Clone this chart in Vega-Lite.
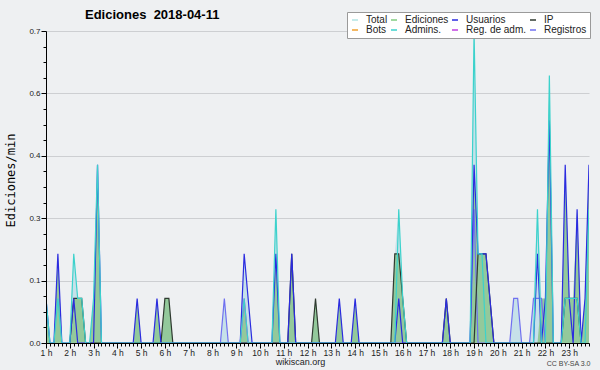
{
  "$schema": "https://vega.github.io/schema/vega-lite/v6.json",
  "width": 543,
  "height": 312,
  "autosize": {"type": "none"},
  "padding": {"left": 46, "top": 31, "right": 11, "bottom": 27},
  "background": "#eef0f2",
  "config": {"view": {"stroke": null}, "font": "Liberation Sans"},
  "title": {"text": "Ediciones \u00a02018-04-11", "anchor": "start", "frame": "group", "dx": 39, "dy": 18, "offset": 8, "font": "Liberation Sans", "fontSize": 13, "fontWeight": "bold", "color": "#000000"},
  "datasets": {
    "tot": [
      {"t":60,"v":0.1},{"t":70,"v":0},{"t":80,"v":0},{"t":90,"v":0.2},{"t":100,"v":0},{"t":120,"v":0},{"t":130,"v":0.2},{"t":140,"v":0.1},{"t":150,"v":0.1},{"t":160,"v":0},{"t":170,"v":0},{"t":180,"v":0.1},{"t":190,"v":0.4},{"t":200,"v":0},{"t":280,"v":0},{"t":290,"v":0.1},{"t":300,"v":0},{"t":330,"v":0},{"t":340,"v":0.1},{"t":350,"v":0},{"t":360,"v":0.1},{"t":370,"v":0.1},{"t":380,"v":0},{"t":500,"v":0},{"t":510,"v":0.1},{"t":520,"v":0},{"t":550,"v":0},{"t":560,"v":0.2},{"t":570,"v":0.1},{"t":580,"v":0},{"t":630,"v":0},{"t":640,"v":0.3},{"t":650,"v":0},{"t":670,"v":0},{"t":680,"v":0.2},{"t":690,"v":0},{"t":730,"v":0},{"t":740,"v":0.1},{"t":750,"v":0},{"t":790,"v":0},{"t":800,"v":0.1},{"t":810,"v":0},{"t":830,"v":0},{"t":840,"v":0.1},{"t":850,"v":0},{"t":930,"v":0},{"t":940,"v":0.2},{"t":950,"v":0.3},{"t":960,"v":0.1},{"t":970,"v":0},{"t":1060,"v":0},{"t":1070,"v":0.1},{"t":1080,"v":0},{"t":1130,"v":0},{"t":1140,"v":0.7},{"t":1150,"v":0.2},{"t":1160,"v":0.2},{"t":1170,"v":0.2},{"t":1180,"v":0.1},{"t":1190,"v":0},{"t":1230,"v":0},{"t":1240,"v":0.1},{"t":1250,"v":0.1},{"t":1260,"v":0},{"t":1280,"v":0},{"t":1290,"v":0.1},{"t":1300,"v":0.3},{"t":1310,"v":0.1},{"t":1320,"v":0.1},{"t":1330,"v":0.6},{"t":1340,"v":0},{"t":1360,"v":0},{"t":1370,"v":0.4},{"t":1380,"v":0.1},{"t":1390,"v":0.1},{"t":1400,"v":0.3},{"t":1410,"v":0},{"t":1420,"v":0.1},{"t":1430,"v":0.4}
    ],
    "edi": [
      {"t":60,"v":0.1},{"t":70,"v":0},{"t":80,"v":0},{"t":90,"v":0.2},{"t":100,"v":0},{"t":120,"v":0},{"t":130,"v":0.1},{"t":140,"v":0.1},{"t":150,"v":0.1},{"t":160,"v":0},{"t":170,"v":0},{"t":180,"v":0.1},{"t":190,"v":0.4},{"t":200,"v":0},{"t":280,"v":0},{"t":290,"v":0.1},{"t":300,"v":0},{"t":330,"v":0},{"t":340,"v":0.1},{"t":350,"v":0},{"t":360,"v":0.1},{"t":370,"v":0.1},{"t":380,"v":0},{"t":550,"v":0},{"t":560,"v":0.1},{"t":570,"v":0},{"t":630,"v":0},{"t":640,"v":0.2},{"t":650,"v":0},{"t":670,"v":0},{"t":680,"v":0.2},{"t":690,"v":0},{"t":730,"v":0},{"t":740,"v":0.1},{"t":750,"v":0},{"t":790,"v":0},{"t":800,"v":0.1},{"t":810,"v":0},{"t":830,"v":0},{"t":840,"v":0.1},{"t":850,"v":0},{"t":930,"v":0},{"t":940,"v":0.2},{"t":950,"v":0.2},{"t":960,"v":0.1},{"t":970,"v":0},{"t":1060,"v":0},{"t":1070,"v":0.1},{"t":1080,"v":0},{"t":1130,"v":0},{"t":1140,"v":0.4},{"t":1150,"v":0.2},{"t":1160,"v":0.2},{"t":1170,"v":0.2},{"t":1180,"v":0.1},{"t":1190,"v":0},{"t":1300,"v":0},{"t":1310,"v":0.1},{"t":1320,"v":0.1},{"t":1330,"v":0.6},{"t":1340,"v":0},{"t":1360,"v":0},{"t":1370,"v":0.4},{"t":1380,"v":0.1},{"t":1390,"v":0.1},{"t":1400,"v":0.3},{"t":1410,"v":0},{"t":1420,"v":0.1},{"t":1430,"v":0.4}
    ],
    "lines": [
      {"s":"Registros","t":500,"v":0},{"s":"Registros","t":510,"v":0.1},{"s":"Registros","t":520,"v":0},{"s":"Registros","t":1130,"v":0},{"s":"Registros","t":1140,"v":0.3},{"s":"Registros","t":1150,"v":0},{"s":"Registros","t":1230,"v":0},{"s":"Registros","t":1240,"v":0.1},{"s":"Registros","t":1250,"v":0.1},{"s":"Registros","t":1260,"v":0},{"s":"Registros","t":1280,"v":0},{"s":"Registros","t":1290,"v":0.1},{"s":"Registros","t":1300,"v":0.1},{"s":"Registros","t":1310,"v":0.1},{"s":"Registros","t":1320,"v":0},
      {"s":"Reg. de adm.","t":550,"v":0},{"s":"Reg. de adm.","t":560,"v":0.1},{"s":"Reg. de adm.","t":570,"v":0},
      {"s":"IP","t":120,"v":0},{"s":"IP","t":130,"v":0.1},{"s":"IP","t":140,"v":0.1},{"s":"IP","t":150,"v":0.1},{"s":"IP","t":160,"v":0},{"s":"IP","t":350,"v":0},{"s":"IP","t":360,"v":0.1},{"s":"IP","t":370,"v":0.1},{"s":"IP","t":380,"v":0},{"s":"IP","t":670,"v":0},{"s":"IP","t":680,"v":0.2},{"s":"IP","t":690,"v":0},{"s":"IP","t":730,"v":0},{"s":"IP","t":740,"v":0.1},{"s":"IP","t":750,"v":0},{"s":"IP","t":930,"v":0},{"s":"IP","t":940,"v":0.2},{"s":"IP","t":950,"v":0.2},{"s":"IP","t":960,"v":0.1},{"s":"IP","t":970,"v":0},{"s":"IP","t":1060,"v":0},{"s":"IP","t":1070,"v":0.1},{"s":"IP","t":1080,"v":0},{"s":"IP","t":1140,"v":0},{"s":"IP","t":1150,"v":0.2},{"s":"IP","t":1160,"v":0.2},{"s":"IP","t":1170,"v":0.2},{"s":"IP","t":1180,"v":0.1},{"s":"IP","t":1190,"v":0},{"s":"IP","t":1360,"v":0},{"s":"IP","t":1370,"v":0.1},{"s":"IP","t":1380,"v":0.1},{"s":"IP","t":1390,"v":0.1},{"s":"IP","t":1400,"v":0.1},{"s":"IP","t":1410,"v":0},
      {"s":"Usuarios","t":60,"v":0.1},{"s":"Usuarios","t":70,"v":0},{"s":"Usuarios","t":80,"v":0},{"s":"Usuarios","t":90,"v":0.2},{"s":"Usuarios","t":100,"v":0},{"s":"Usuarios","t":120,"v":0},{"s":"Usuarios","t":130,"v":0.1},{"s":"Usuarios","t":140,"v":0},{"s":"Usuarios","t":180,"v":0},{"s":"Usuarios","t":190,"v":0.4},{"s":"Usuarios","t":200,"v":0},{"s":"Usuarios","t":280,"v":0},{"s":"Usuarios","t":290,"v":0.1},{"s":"Usuarios","t":300,"v":0},{"s":"Usuarios","t":330,"v":0},{"s":"Usuarios","t":340,"v":0.1},{"s":"Usuarios","t":350,"v":0},{"s":"Usuarios","t":550,"v":0},{"s":"Usuarios","t":560,"v":0.2},{"s":"Usuarios","t":570,"v":0.1},{"s":"Usuarios","t":580,"v":0},{"s":"Usuarios","t":630,"v":0},{"s":"Usuarios","t":640,"v":0.2},{"s":"Usuarios","t":650,"v":0},{"s":"Usuarios","t":670,"v":0},{"s":"Usuarios","t":680,"v":0.2},{"s":"Usuarios","t":690,"v":0},{"s":"Usuarios","t":790,"v":0},{"s":"Usuarios","t":800,"v":0.1},{"s":"Usuarios","t":810,"v":0},{"s":"Usuarios","t":830,"v":0},{"s":"Usuarios","t":840,"v":0.1},{"s":"Usuarios","t":850,"v":0},{"s":"Usuarios","t":940,"v":0},{"s":"Usuarios","t":950,"v":0.1},{"s":"Usuarios","t":960,"v":0},{"s":"Usuarios","t":1060,"v":0},{"s":"Usuarios","t":1070,"v":0.1},{"s":"Usuarios","t":1080,"v":0},{"s":"Usuarios","t":1130,"v":0},{"s":"Usuarios","t":1140,"v":0.4},{"s":"Usuarios","t":1150,"v":0.2},{"s":"Usuarios","t":1160,"v":0.2},{"s":"Usuarios","t":1170,"v":0.2},{"s":"Usuarios","t":1180,"v":0.1},{"s":"Usuarios","t":1190,"v":0},{"s":"Usuarios","t":1290,"v":0},{"s":"Usuarios","t":1300,"v":0.2},{"s":"Usuarios","t":1310,"v":0},{"s":"Usuarios","t":1320,"v":0.1},{"s":"Usuarios","t":1330,"v":0.5},{"s":"Usuarios","t":1340,"v":0},{"s":"Usuarios","t":1360,"v":0},{"s":"Usuarios","t":1370,"v":0.4},{"s":"Usuarios","t":1380,"v":0.1},{"s":"Usuarios","t":1390,"v":0},{"s":"Usuarios","t":1400,"v":0.3},{"s":"Usuarios","t":1410,"v":0},{"s":"Usuarios","t":1420,"v":0.1},{"s":"Usuarios","t":1430,"v":0.4},
      {"s":"Admins.","t":60,"v":0.1},{"s":"Admins.","t":70,"v":0},{"s":"Admins.","t":80,"v":0},{"s":"Admins.","t":90,"v":0.1},{"s":"Admins.","t":100,"v":0},{"s":"Admins.","t":120,"v":0},{"s":"Admins.","t":130,"v":0.2},{"s":"Admins.","t":140,"v":0.1},{"s":"Admins.","t":150,"v":0.1},{"s":"Admins.","t":160,"v":0},{"s":"Admins.","t":170,"v":0},{"s":"Admins.","t":180,"v":0.1},{"s":"Admins.","t":190,"v":0.4},{"s":"Admins.","t":200,"v":0},{"s":"Admins.","t":550,"v":0},{"s":"Admins.","t":560,"v":0.1},{"s":"Admins.","t":570,"v":0},{"s":"Admins.","t":630,"v":0},{"s":"Admins.","t":640,"v":0.3},{"s":"Admins.","t":650,"v":0},{"s":"Admins.","t":940,"v":0},{"s":"Admins.","t":950,"v":0.3},{"s":"Admins.","t":960,"v":0.1},{"s":"Admins.","t":970,"v":0},{"s":"Admins.","t":1130,"v":0},{"s":"Admins.","t":1140,"v":0.7},{"s":"Admins.","t":1150,"v":0.2},{"s":"Admins.","t":1160,"v":0.2},{"s":"Admins.","t":1170,"v":0},{"s":"Admins.","t":1290,"v":0},{"s":"Admins.","t":1300,"v":0.3},{"s":"Admins.","t":1310,"v":0},{"s":"Admins.","t":1320,"v":0},{"s":"Admins.","t":1330,"v":0.6},{"s":"Admins.","t":1340,"v":0},{"s":"Admins.","t":1360,"v":0},{"s":"Admins.","t":1370,"v":0.1},{"s":"Admins.","t":1380,"v":0.1},{"s":"Admins.","t":1390,"v":0.1},{"s":"Admins.","t":1400,"v":0.1},{"s":"Admins.","t":1410,"v":0},{"s":"Admins.","t":1420,"v":0},{"s":"Admins.","t":1430,"v":0.3}
    ]
  },
  "layer": [
    {
      "data": {"name": "tot"},
      "mark": {"type": "area", "color": "#c6e1e9", "opacity": 1},
      "encoding": {
        "x": {"field": "t", "type": "quantitative", "scale": {"domain": [60, 1430], "nice": false, "zero": false},
          "axis": {"orient": "bottom", "values": [60,120,180,240,300,360,420,480,540,600,660,720,780,840,900,960,1020,1080,1140,1200,1260,1320,1380], "labelExpr": "datum.value / 60 + ' h'", "tickSize": 5, "tickColor": "#000000", "domain": false, "grid": false, "labelFont": "Liberation Sans", "labelFontSize": 8.5, "labelColor": "#222222", "labelPadding": 0, "labelOverlap": false, "labelFlush": false, "title": "wikiscan.org", "titleX": 254, "titleY": 21, "titleAlign": "center", "titleBaseline": "alphabetic", "titleFont": "Liberation Sans", "titleFontSize": 9, "titleFontWeight": "normal", "titleColor": "#222222", "zindex": 1}},
        "y": {"field": "v", "type": "quantitative", "scale": {"domain": [0, 0.7], "nice": false},
          "axis": {"orient": "left", "values": [0, 0.14, 0.28, 0.42, 0.56, 0.7], "format": ".1f", "tickSize": 5, "tickColor": "#000000", "domain": false, "grid": true, "gridColor": "#cdcfd2", "gridWidth": 1, "labelFont": "Liberation Sans", "labelFontSize": 8, "labelColor": "#222222", "labelPadding": 1, "title": "Ediciones/min", "titleFont": "DejaVu Sans Mono", "titleFontSize": 12, "titleFontWeight": "normal", "titleColor": "#000000", "titleX": -36, "titleY": 149, "titleAlign": "center", "titleBaseline": "middle", "titleAngle": 270, "zindex": 0}}
      }
    },
    {
      "data": {"name": "edi"},
      "mark": {"type": "area", "color": "#93c99b", "opacity": 1},
      "encoding": {
        "x": {"field": "t", "type": "quantitative", "axis": null},
        "y": {"field": "v", "type": "quantitative", "axis": null}
      }
    },
    {
      "data": {"name": "lines"},
      "mark": {"type": "line", "strokeWidth": 1.2, "clip": true},
      "encoding": {
        "x": {"field": "t", "type": "quantitative",
          "axis": {"orient": "bottom", "tickCount": 137, "labels": false, "tickSize": 3, "tickColor": "#000000", "domain": true, "domainColor": "#000000", "grid": false, "title": "CC BY-SA 3.0", "titleX": 544, "titleY": 22, "titleAlign": "right", "titleBaseline": "alphabetic", "titleFont": "Liberation Sans", "titleFontSize": 7, "titleFontWeight": "normal", "titleColor": "#444444", "zindex": 1}},
        "y": {"field": "v", "type": "quantitative",
          "axis": {"orient": "left", "values": [0.035,0.07,0.105,0.175,0.21,0.245,0.315,0.35,0.385,0.455,0.49,0.525,0.595,0.63,0.665], "labels": false, "tickSize": 3, "tickColor": "#000000", "domain": true, "domainColor": "#000000", "grid": false, "title": null, "zindex": 1}},
        "color": {"field": "s", "type": "nominal",
          "scale": {"domain": ["Total", "Ediciones", "Usuarios", "IP", "Bots", "Admins.", "Reg. de adm.", "Registros"],
                    "range": ["#b2e4e4", "#80cc80", "#2b2be0", "#2f3a30", "#f0a030", "#3cd2cc", "#c040e0", "#7070f0"]},
          "legend": {"orient": "none", "legendX": 301, "legendY": -19, "direction": "horizontal", "columns": 4, "title": null, "symbolType": "stroke", "symbolSize": 36, "symbolStrokeWidth": 1.5, "labelFont": "Liberation Sans", "labelFontSize": 10, "labelColor": "#222222", "labelOffset": 6, "labelLimit": 0, "fillColor": "#ffffff", "strokeColor": "#9a9a9a", "padding": 3, "rowPadding": 0, "columnPadding": 0}}
      }
    }
  ],
  "resolve": {"axis": {"x": "independent", "y": "independent"}}
}
